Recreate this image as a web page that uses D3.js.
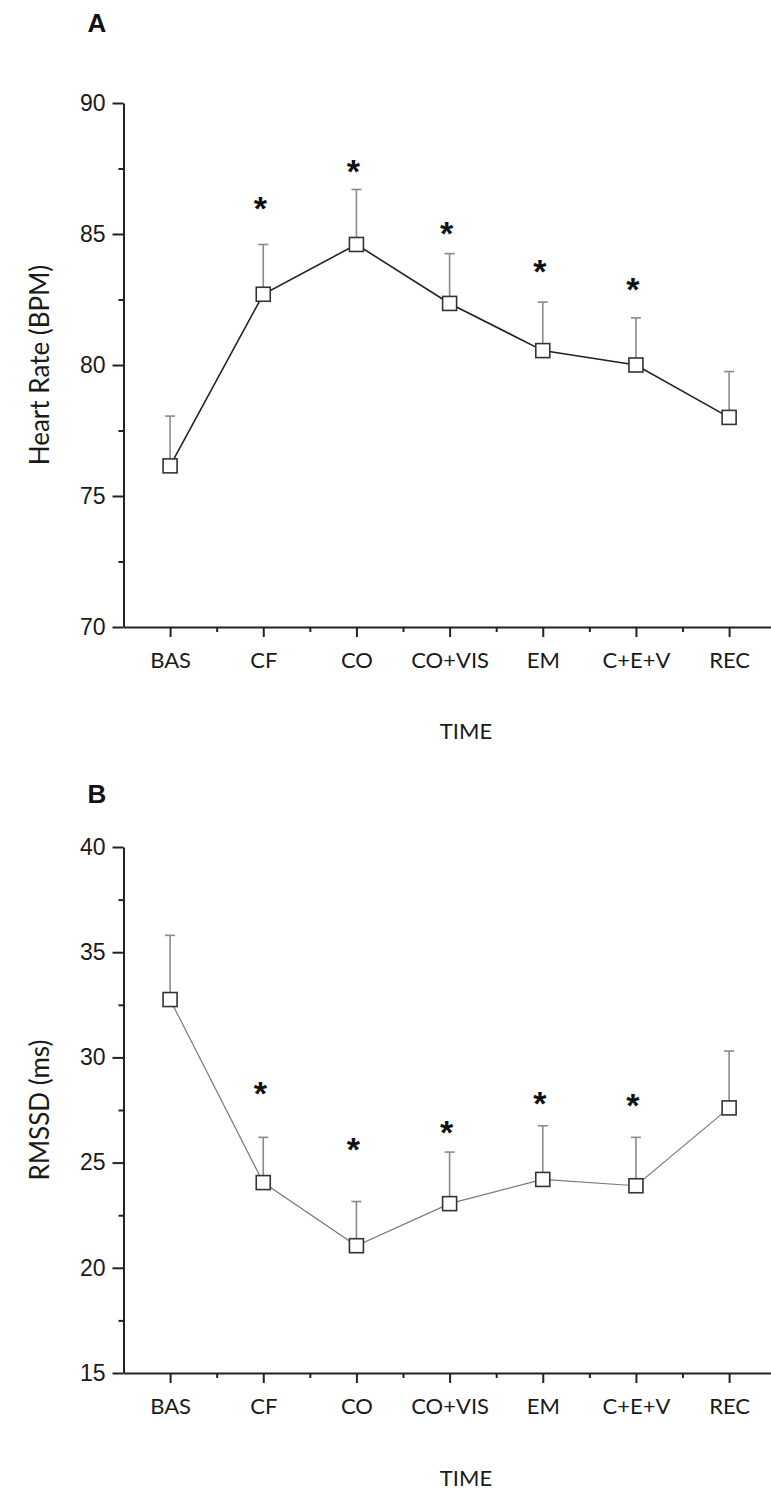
<!DOCTYPE html>
<html lang="en">
<head>
    <meta charset="UTF-8">
    <title>Heart Rate and RMSSD over time</title>
    <script src="https://d3js.org/d3.v7.min.js"></script>
    <style>
        body { margin: 0; background: #fff; }
        svg { display: block; }
        .num { font-family: "Liberation Sans", Arial, sans-serif; font-size: 23px; fill: #1a1a1a; }
        .cat { font-family: Lato, "Open Sans", sans-serif; font-size: 22px; fill: #1a1a1a; }
        .title { font-family: Lato, "Open Sans", sans-serif; font-size: 26px; fill: #1a1a1a; }
        .panel { font-family: "Liberation Sans", Arial, sans-serif; font-size: 26px; font-weight: bold; fill: #111; }
        .star { font-family: "Liberation Sans", Arial, sans-serif; font-size: 34px; font-weight: bold; fill: #111; }
    </style>
</head>
<body>
    <script>
        // categories on the x axis
        var categories = ["BAS", "CF", "CO", "CO+VIS", "EM", "C+E+V", "REC"];

        // panel A: heart rate (mean, upper error, asterisk height)
        var hrMean = [76.15, 82.7, 84.6, 82.35, 80.55, 80.0, 78.0];
        var hrErr = [1.9, 1.9, 2.1, 1.9, 1.85, 1.8, 1.75];
        var hrStar = [null, 86.3, 87.7, 85.35, 83.9, 83.2, null];
        var hrTicks = [70, 75, 80, 85, 90];

        // panel B: RMSSD
        var rmssdMean = [32.75, 24.05, 21.05, 23.05, 24.2, 23.9, 27.6];
        var rmssdErr = [3.05, 2.15, 2.1, 2.45, 2.55, 2.3, 2.7];
        var rmssdStar = [null, 28.7, 26.05, 26.85, 28.2, 28.1, null];
        var rmssdTicks = [15, 20, 25, 30, 35, 40];

        var W = 771, H = 1495;

        var svg = d3.select("body")
            .append("svg")
            .attr("width", W)
            .attr("height", H);

        // x positions shared by both panels
        var x = d3.scaleLinear()
            .domain([-0.5, categories.length - 0.5])
            .range([123.5, 775.7]);

        function drawPanel(opt) {
            var y = d3.scaleLinear().domain(opt.domain).range(opt.range);
            var g = svg.append("g");
            var axisY = opt.range[0];

            // panel letter
            g.append("text").attr("class", "panel")
                .attr("x", 97).attr("y", opt.letterY)
                .attr("text-anchor", "middle")
                .text(opt.letter);

            // y axis
            var step = opt.ticks[1] - opt.ticks[0];
            var minor = opt.ticks.slice(0, -1).map(function (t) { return t + step / 2; });
            var yAxis = d3.axisLeft(y)
                .tickValues(opt.ticks)
                .tickSize(11)
                .tickPadding(7)
                .tickSizeOuter(0);
            var ya = g.append("g")
                .attr("transform", "translate(" + x(-0.5) + ",0)")
                .call(yAxis);
            ya.attr("font-size", null).attr("font-family", null);
            ya.select(".domain").attr("stroke", "#222").attr("stroke-width", 2);
            ya.selectAll(".tick line").attr("stroke", "#222").attr("stroke-width", 2);
            ya.selectAll("text").attr("class", "num").attr("fill", null);
            g.append("g")
                .attr("transform", "translate(" + x(-0.5) + ",0)")
                .call(d3.axisLeft(y).tickValues(minor).tickSize(5).tickFormat("").tickSizeOuter(0))
                .call(function (s) {
                    s.select(".domain").remove();
                    s.selectAll(".tick line").attr("stroke", "#222").attr("stroke-width", 2);
                });

            // x axis
            var xAxis = d3.axisBottom(x)
                .tickValues(d3.range(categories.length))
                .tickFormat(function (i) { return categories[i]; })
                .tickSize(10)
                .tickPadding(opt.labelPad)
                .tickSizeOuter(0);
            var xa = g.append("g")
                .attr("transform", "translate(0," + axisY + ")")
                .call(xAxis);
            xa.attr("font-size", null).attr("font-family", null);
            xa.select(".domain").attr("stroke", "#222").attr("stroke-width", 2);
            xa.selectAll(".tick line").attr("stroke", "#222").attr("stroke-width", 2);
            xa.selectAll("text").attr("class", "cat").attr("fill", null);
            g.append("g")
                .attr("transform", "translate(0," + axisY + ")")
                .call(d3.axisBottom(x).tickValues(d3.range(0.5, categories.length, 1)).tickSize(5).tickFormat("").tickSizeOuter(0))
                .call(function (s) {
                    s.select(".domain").remove();
                    s.selectAll(".tick line").attr("stroke", "#222").attr("stroke-width", 2);
                });

            // axis titles
            g.append("text").attr("class", "cat")
                .attr("x", 466).attr("y", opt.timeY)
                .attr("text-anchor", "middle")
                .text("TIME");
            g.append("text").attr("class", "title")
                .attr("transform", "translate(49," + ((opt.range[0] + opt.range[1]) / 2) + ") rotate(-90)")
                .attr("text-anchor", "middle")
                .text(opt.yTitle);

            var pts = opt.mean.map(function (m, i) { return { i: i, m: m, e: opt.err[i], s: opt.star[i] }; });

            // error bars (upper only)
            var eb = g.selectAll(".eb").data(pts).enter().append("g").attr("class", "eb");
            eb.append("line")
                .attr("x1", function (d) { return x(d.i); })
                .attr("x2", function (d) { return x(d.i); })
                .attr("y1", function (d) { return y(d.m); })
                .attr("y2", function (d) { return y(d.m + d.e); })
                .attr("stroke", "#8a8a8a").attr("stroke-width", 1.6);
            eb.append("line")
                .attr("x1", function (d) { return x(d.i) - 5; })
                .attr("x2", function (d) { return x(d.i) + 5; })
                .attr("y1", function (d) { return y(d.m + d.e); })
                .attr("y2", function (d) { return y(d.m + d.e); })
                .attr("stroke", "#8a8a8a").attr("stroke-width", 1.6);

            // connecting line
            g.append("path")
                .datum(pts)
                .attr("fill", "none")
                .attr("stroke", opt.lineColor)
                .attr("stroke-width", opt.lineWidth)
                .attr("d", d3.line().x(function (d) { return x(d.i); }).y(function (d) { return y(d.m); }));

            // open square markers
            g.selectAll(".mk").data(pts).enter().append("rect")
                .attr("class", "mk")
                .attr("x", function (d) { return x(d.i) - 7; })
                .attr("y", function (d) { return y(d.m) - 7; })
                .attr("width", 14).attr("height", 14)
                .attr("fill", "#fff")
                .attr("stroke", "#333").attr("stroke-width", 1.6);

            // significance asterisks
            g.selectAll(".star").data(pts.filter(function (d) { return d.s != null; })).enter().append("text")
                .attr("class", "star")
                .attr("x", function (d) { return x(d.i) - 3; })
                .attr("y", function (d) { return y(d.s) + 20; })
                .attr("text-anchor", "middle")
                .text("*");
        }

        drawPanel({
            letter: "A", letterY: 32,
            domain: [70, 90], range: [627, 103],
            ticks: hrTicks,
            mean: hrMean, err: hrErr, star: hrStar,
            yTitle: "Heart Rate (BPM)",
            lineColor: "#222", lineWidth: 1.6,
            labelPad: 15, timeY: 739
        });

        drawPanel({
            letter: "B", letterY: 803,
            domain: [15, 40], range: [1373, 847],
            ticks: rmssdTicks,
            mean: rmssdMean, err: rmssdErr, star: rmssdStar,
            yTitle: "RMSSD (ms)",
            lineColor: "#7a7a7a", lineWidth: 1.2,
            labelPad: 15, timeY: 1486
        });
    </script>
</body>
</html>
